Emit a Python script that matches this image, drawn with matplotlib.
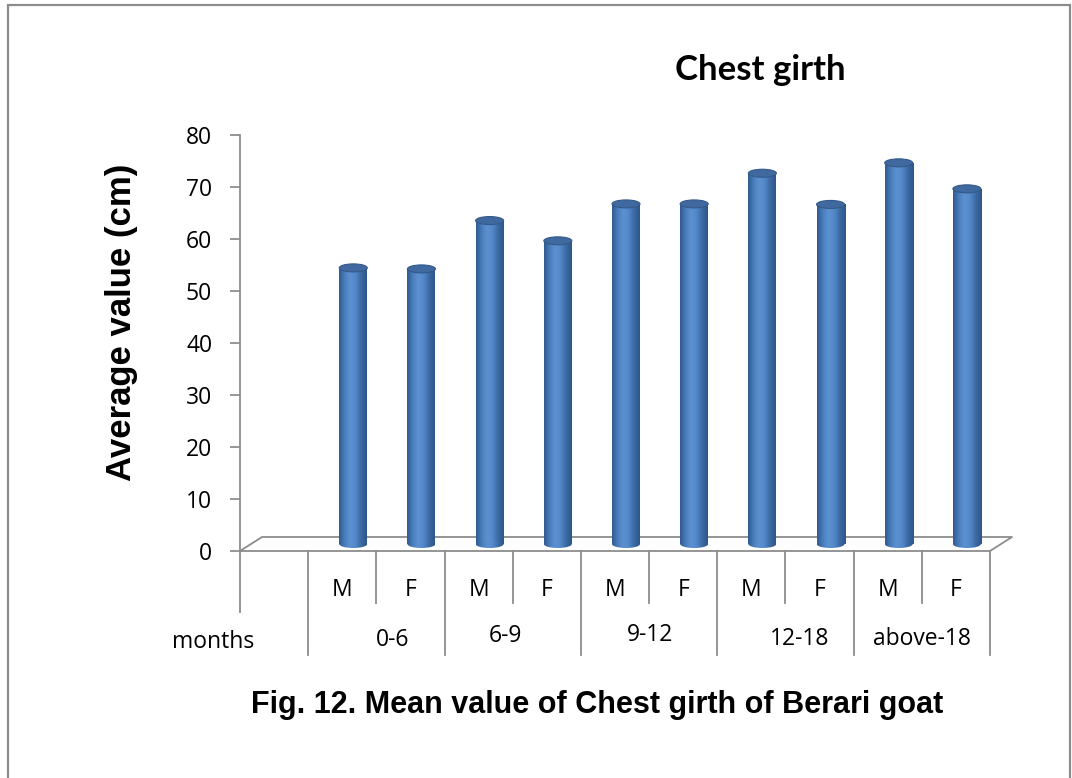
import matplotlib.pyplot as plt
import numpy as np
from matplotlib.colors import LinearSegmentedColormap
from matplotlib.patches import Ellipse, Rectangle

sex = ["M", "F", "M", "F", "M", "F", "M", "F", "M", "F"]
age_groups = ["0-6", "6-9", "9-12", "12-18", "above-18"]
chest_girth = [53.1, 52.9, 62.2, 58.3, 65.4, 65.4, 71.3, 65.3, 73.3, 68.3]
yticks = [0, 10, 20, 30, 40, 50, 60, 70, 80]

W, H = 1072, 778
fig = plt.figure(figsize=(W / 100, H / 100), dpi=100)
# outer frame, bottom edge falls outside the picture
fig.patches.append(Rectangle((8 / W, -0.05), (1070 - 8) / W, 1.05 - 5 / H, transform=fig.transFigure,
                             fill=False, edgecolor="#8c8c8c", linewidth=1.6))

left, right, bottom, top = 240, 990, 551, 135
ax = fig.add_axes([left / W, 1 - bottom / H, (right - left) / W, (bottom - top) / H])
grey = "#8c8c8c"
txt = "Open Sans"
fs = 16.5

px_x = (right - left) / 11      # pixels per slot
px_y = (bottom - top) / 80      # pixels per unit
ddx, ddy = 22 / px_x, 14 / px_y   # floor depth

for s in ["top", "right", "bottom"]:
    ax.spines[s].set_visible(False)
ax.spines["left"].set_color(grey)
ax.spines["left"].set_linewidth(1.3)
ax.set_yticks(yticks)
ax.set_yticklabels([str(v) for v in yticks], fontsize=fs, family=txt)
ax.tick_params(axis="y", length=7, color=grey, width=1.3, pad=13)
ax.set_xticks([])

# floor
fx = [0, ddx, 11 + ddx, 11, 0]
fy = [0, ddy, ddy, 0, 0]
ax.plot(fx, fy, color=grey, lw=1.3, clip_on=False, zorder=1)

# cylinders
cmap = LinearSegmentedColormap.from_list("cyl", ["#2f5b8f", "#4a7dbb", "#5c91d2", "#5287c8", "#3b69a2", "#2c578a"])
grad = np.linspace(0, 1, 100).reshape(1, -1)
xs = np.arange(1, 11) + 0.5 + ddx / 2
bw = 28 / px_x
eh = 8 / px_y
base = ddy / 2
bars = ax.bar(xs, chest_girth, width=bw, bottom=base, color="none", zorder=3)
for b, x, v in zip(bars, xs, chest_girth):
    bot = Ellipse((x, base), bw, eh, facecolor="none", edgecolor="none")
    ax.add_patch(bot)
    for p in (b, bot):
        im = ax.imshow(grad, cmap=cmap, aspect="auto", extent=(x - bw / 2, x + bw / 2, base - eh, base + v),
                       zorder=3, interpolation="bicubic")
        im.set_clip_path(p)
    ax.add_patch(Ellipse((x, base + v), bw, eh, facecolor="#40699f", edgecolor="#34598a", lw=0.8, zorder=4))
ax.set_xlim(0, 11)
ax.set_ylim(0, 80)

# category axis grid lines
def yd(py):
    return -(py - bottom) / px_y

ax.plot([0, 0], [0, yd(612)], color=grey, lw=1.3, clip_on=False)
for i in range(1, 12):
    end = yd(655) if i % 2 == 1 else yd(603)
    ax.plot([i, i], [0, end], color=grey, lw=1.3, clip_on=False)
for i, s in enumerate(sex):
    ax.text(i + 1.5, yd(590), s, ha="center", va="center", fontsize=fs, family=txt)

ax.text((213 - left) / px_x, yd(642), "months", ha="center", va="center", fontsize=fs, family=txt,
        clip_on=False)
group_x = [393, 505, 650, 800, 922]
group_y = [640, 636, 635, 639, 639]
for g, gx, gy in zip(age_groups, group_x, group_y):
    ax.text((gx - left) / px_x, yd(gy), g, ha="center", va="center", fontsize=fs, family=txt)

fig.text(760 / W, 1 - 70 / H, "Chest girth", ha="center", va="center", fontsize=25,
         fontweight="bold", family="Lato")
fig.text(121 / W, 1 - 322 / H, "Average value (cm)", ha="center", va="center", rotation=90,
         fontsize=25, fontweight="bold", family="Liberation Sans")
fig.text(597 / W, 1 - 705 / H, "Fig. 12. Mean value of Chest girth of Berari goat", ha="center",
         va="center", fontsize=22, fontweight="bold", family="Liberation Sans")

fig.savefig("out.png", dpi=100)
